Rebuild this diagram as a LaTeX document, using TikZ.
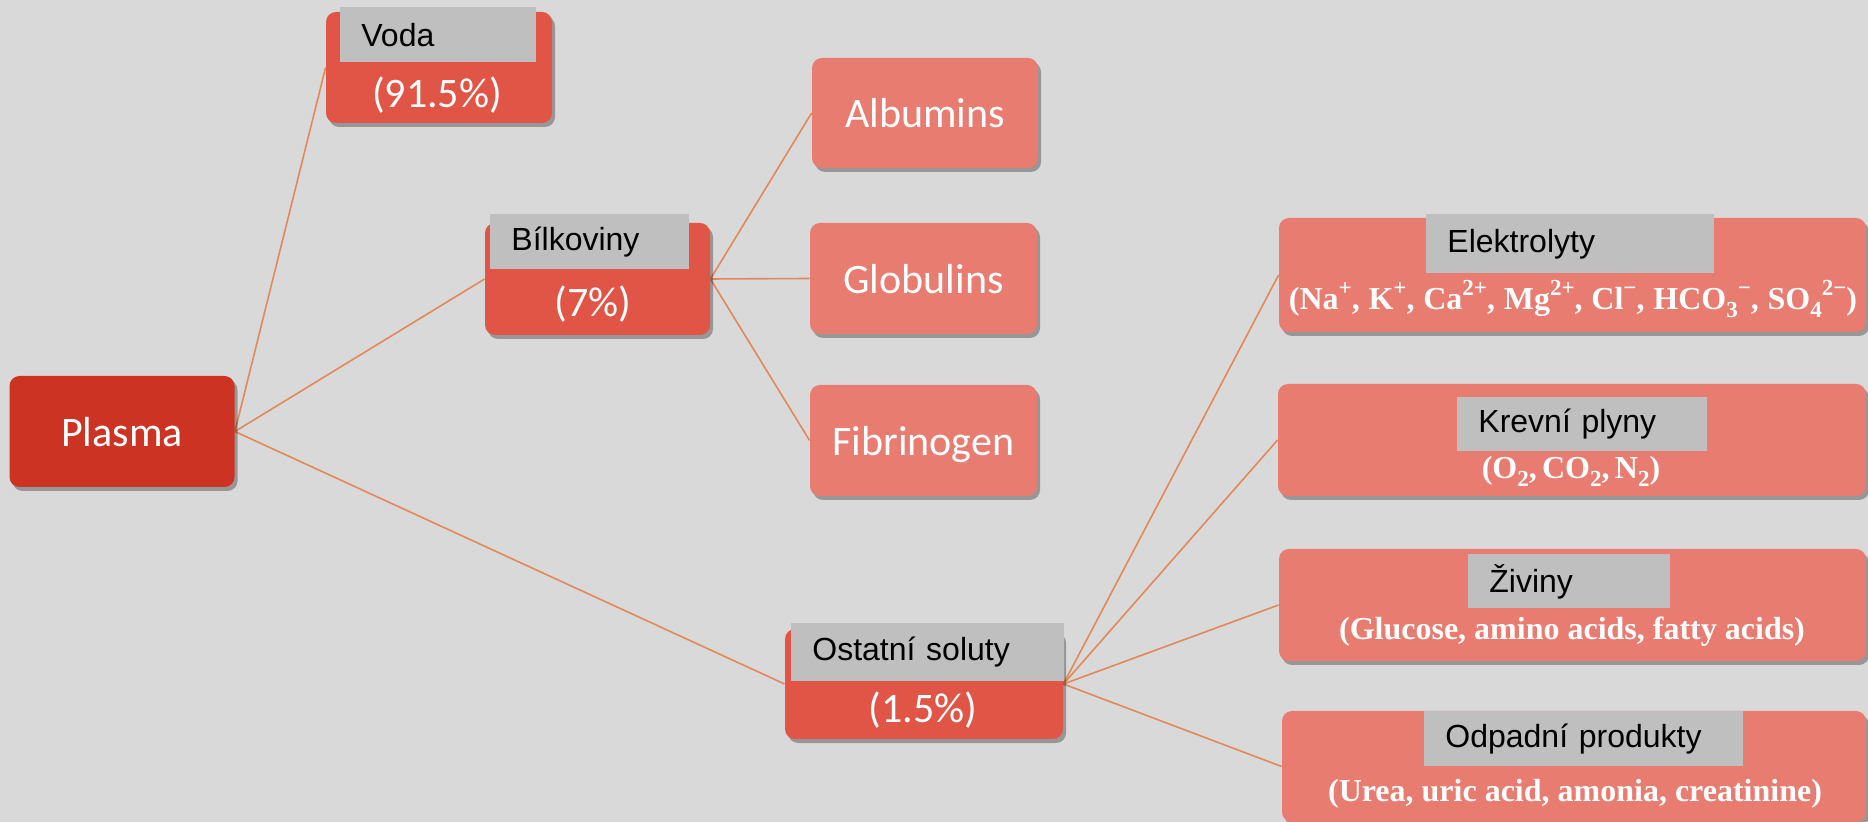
\documentclass[tikz,border=0pt]{standalone}
\usepackage{fontspec}
\newfontfamily\carlito{Carlito}
\newfontfamily\arialf{Liberation Sans}
\newfontfamily\serifm{Liberation Serif}
\usetikzlibrary{shadows}
\definecolor{bgc}{HTML}{D9D9D9}
\definecolor{darkred}{HTML}{CC3322}
\definecolor{midred}{HTML}{E05545}
\definecolor{lightred}{HTML}{E87C70}
\definecolor{glabc}{HTML}{BFBFBF}
\definecolor{linec}{HTML}{E0895A}
\newcommand\mysup[1]{\raisebox{0.45em}{\fontsize{11.5}{12}\selectfont #1}}
\newcommand\mysub[1]{\raisebox{-0.22em}{\fontsize{11.5}{12}\selectfont #1}}
\newcommand\csp{,\hspace{4.4pt}}
\pgfdeclarelayer{bg}
\pgfsetlayers{bg,main}
\tikzset{
  boxbase/.style={rectangle, rounded corners=5pt, draw=none, inner sep=0pt,
    drop shadow={shadow xshift=1.5pt, shadow yshift=-2pt, fill=black, opacity=0.3},
    text=white, font=\carlito\fontsize{21}{24}\selectfont, text height=14.8pt, text depth=0pt},
  darkbox/.style={boxbase, fill=darkred},
  midbox/.style={boxbase, fill=midred},
  lightbox/.style={boxbase, fill=lightred},
  boxtext/.style={text=white, font=\carlito\fontsize{21}{24}\selectfont, inner sep=0pt, text height=14.8pt, text depth=0pt},
  glab/.style={rectangle, fill=glabc, inner xsep=10.5pt, inner ysep=0pt, align=left, anchor=north west,
    font=\arialf\fontsize{16}{18}\selectfont, text=black, minimum height=27.5pt},
  formula/.style={text=white, font=\serifm\bfseries\fontsize{16}{18}\selectfont, inner sep=0pt, anchor=base},
  conn/.style={draw=linec, line width=0.8pt}
}
\begin{document}
\begin{tikzpicture}[x=0.5pt,y=-0.5pt]
\useasboundingbox (0,0) rectangle (1868,822);
% level 0
\node[darkbox, minimum width=112.5pt, minimum height=55.5pt] (plasma) at (122,431.5) {Plasma};
% Voda
\node[midbox, minimum width=113pt, minimum height=55.5pt] (voda) at (439,67.5) {};
\node[glab, text width=77pt] (vodaL) at (340,7) {Voda};
\node[boxtext] (vodaP) at (437,93) {(91.5\%)};
% Bilkoviny
\node[midbox, minimum width=112.5pt, minimum height=56pt] (bilk) at (597.5,279) {};
\node[glab, text width=78.5pt] (bilkL) at (490,214) {Bílkoviny};
\node[boxtext] (bilkP) at (593,302) {(7\%)};
% proteins
\node[lightbox, minimum width=113pt, minimum height=55pt] (alb) at (925,113) {Albumins};
\node[lightbox, minimum width=113.5pt, minimum height=55.5pt] (glob) at (923.5,278.5) {Globulins};
\node[lightbox, minimum width=113.5pt, minimum height=55.5pt] (fib) at (923.5,440.5) {Fibrinogen};
% Ostatni
\node[midbox, minimum width=139pt, minimum height=55pt] (ost) at (924,684) {};
\node[glab, text width=115.5pt, minimum height=29pt] (ostL) at (791,623) {Ostatní soluty};
\node[boxtext] (ostP) at (923,707.5) {(1.5\%)};
% solutes
\node[lightbox, minimum width=293.5pt, minimum height=57pt] (elek) at (1572.5,275) {};
\node[glab, text width=123pt, minimum height=29.5pt] (elekL) at (1426,214) {Elektrolyty};
\node[formula] (elekF) at (1573,310) {(Na\mysup{+}\csp K\mysup{+}\csp Ca\mysup{2+}\csp Mg\mysup{2+}\csp Cl\mysup{−}\csp HCO\mysub{3}\mysup{−}\csp SO\mysub{4}\mysup{2−})};
\node[lightbox, minimum width=294pt, minimum height=56pt] (krev) at (1572,440) {};
\node[glab, text width=104pt, minimum height=27pt] (krevL) at (1457,397) {Krevní plyny};
\node[formula] (krevF) at (1571,479) {(O\mysub{2},\,CO\mysub{2},\,N\mysub{2})};
\node[lightbox, minimum width=293.5pt, minimum height=56pt] (ziv) at (1572.5,605) {};
\node[glab, text width=80pt, minimum height=27pt] (zivL) at (1468,554) {Živiny};
\node[formula] (zivF) at (1572,640) {(Glucose, amino acids, fatty acids)};
\node[lightbox, minimum width=292pt, minimum height=55.5pt] (odp) at (1574,766.5) {};
\node[glab, text width=138.5pt, minimum height=27.5pt] (odpL) at (1424,711) {Odpadní produkty};
\node[formula] (odpF) at (1575,801) {(Urea, uric acid, amonia, creatinine)};
\begin{pgfonlayer}{bg}
\fill[bgc] (0,0) rectangle (1868,822);
\draw[conn] (plasma.east) -- (voda.west);
\draw[conn] (plasma.east) -- (bilk.west);
\draw[conn] (plasma.east) -- (ost.west);
\draw[conn] (bilk.east) -- (alb.west);
\draw[conn] (bilk.east) -- (glob.west);
\draw[conn] (bilk.east) -- (fib.west);
\draw[conn] (ost.east) -- (elek.west);
\draw[conn] (ost.east) -- (krev.west);
\draw[conn] (ost.east) -- (ziv.west);
\draw[conn] (ost.east) -- (odp.west);
\end{pgfonlayer}
\end{tikzpicture}
\end{document}
